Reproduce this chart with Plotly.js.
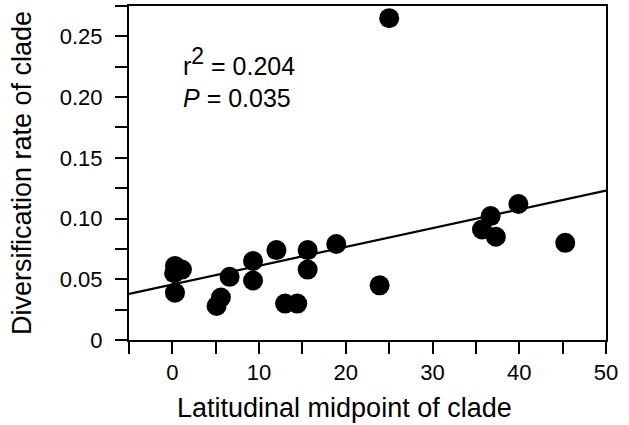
<!DOCTYPE html>
<html>
<head>
<meta charset="utf-8">
<script src="https://cdn.plot.ly/plotly-3.0.1.min.js"></script>
<style>html,body{margin:0;padding:0;background:#fff;}#chart{width:629px;height:425px;}</style>
</head>
<body>
<div id="chart"></div>
<script>
// Latitudinal midpoint of clade (degrees)
const latitude = [25.0, 0.3, 1.1, 0.2, 0.3, 5.6, 5.1, 6.6, 9.3, 9.3, 12.0, 13.0, 14.4, 15.6, 15.6, 18.9, 23.9, 36.7, 35.7, 37.3, 39.9, 45.3];
// Diversification rate of clade
const divRate = [0.265, 0.061, 0.058, 0.055, 0.039, 0.035, 0.028, 0.052, 0.065, 0.049, 0.074, 0.030, 0.030, 0.074, 0.058, 0.079, 0.045, 0.102, 0.091, 0.085, 0.112, 0.080];
// Regression line
const fitX = [-5, 50];
const fitY = [0.038, 0.123];
const xTickVals = [0, 10, 20, 30, 40, 50];
const xTickText = ['0', '10', '20', '30', '40', '50'];
const yTickVals = [0, 0.05, 0.10, 0.15, 0.20, 0.25];
const yTickText = ['0', '0.05', '0.10', '0.15', '0.20', '0.25'];
const statsText = 'r<sup><span style="font-size:23px">2</span></sup> = 0.204<br><i>P</i> = 0.035';

const font = 'Liberation Sans, Arial, Helvetica, sans-serif';

const traces = [
  {x: fitX, y: fitY, type: 'scatter', mode: 'lines', line: {color: '#000', width: 2.2}, hoverinfo: 'skip', showlegend: false},
  {x: latitude, y: divRate, type: 'scatter', mode: 'markers', marker: {color: '#000', size: 20, line: {width: 0}}, showlegend: false}
];

const layout = {
  width: 629, height: 425,
  margin: {l: 129, r: 23, t: 6, b: 85},
  paper_bgcolor: '#fff', plot_bgcolor: '#fff',
  font: {family: font, color: '#000', size: 22},
  showlegend: false,
  xaxis: {
    range: [-5, 50], tickmode: 'array', tickvals: xTickVals, ticktext: xTickText,
    ticks: 'outside', ticklen: 12, tickwidth: 2, tickcolor: '#000',
    minor: {dtick: 5, tick0: 0, ticks: 'outside', ticklen: 12, tickwidth: 2, tickcolor: '#000', showgrid: false},
    showline: true, linewidth: 2, linecolor: '#000', mirror: true,
    showgrid: false, zeroline: false, tickfont: {size: 22}, ticklabelstandoff: 0
  },
  yaxis: {
    range: [0, 0.275], tickmode: 'array', tickvals: yTickVals, ticktext: yTickText,
    ticks: 'outside', ticklen: 12, tickwidth: 2, tickcolor: '#000',
    minor: {dtick: 0.025, tick0: 0, ticks: 'outside', ticklen: 12, tickwidth: 2, tickcolor: '#000', showgrid: false},
    showline: true, linewidth: 2, linecolor: '#000', mirror: true,
    showgrid: false, zeroline: false, tickfont: {size: 22}, ticklabelstandoff: 8,
    title: {text: 'Diversification rate of clade', font: {size: 27}, standoff: 20}
  },
  annotations: [
    {xref: 'paper', yref: 'paper', x: 0.451, y: -0.152, xanchor: 'center', yanchor: 'top',
     text: 'Latitudinal midpoint of clade', showarrow: false, font: {size: 27}},
    {xref: 'paper', yref: 'paper', x: 0.108, y: 0.895, xanchor: 'left', yanchor: 'top', align: 'left',
     text: statsText, showarrow: false, font: {size: 25}}
  ]
};

Plotly.newPlot('chart', traces, layout, {displayModeBar: false, staticPlot: true});
</script>
</body>
</html>
